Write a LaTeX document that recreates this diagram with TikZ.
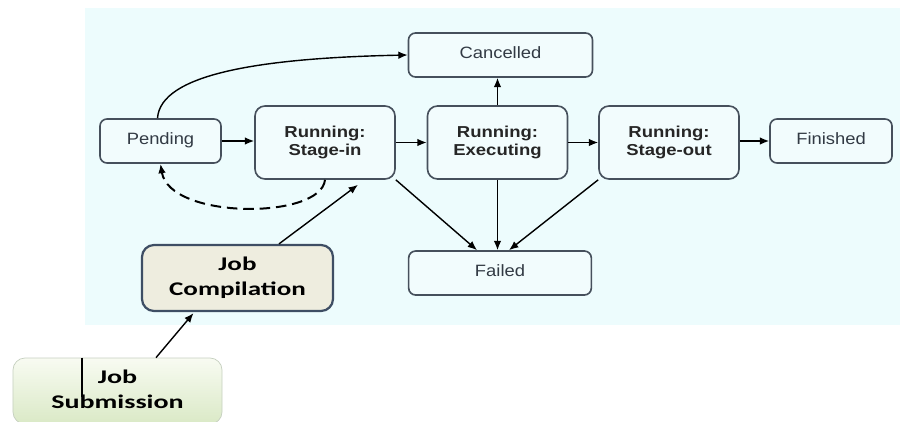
\documentclass[tikz,border=0pt]{standalone}
\usepackage{fontspec}
\setmainfont{Liberation Sans}
\newfontfamily\jobfont{Carlito}
\usetikzlibrary{arrows.meta,calc}

\definecolor{bgcyan}{RGB}{237,252,253}
\definecolor{statefill}{RGB}{242,252,253}
\definecolor{stateedge}{RGB}{70,80,92}
\definecolor{statetext}{RGB}{50,58,68}
\definecolor{compfill}{RGB}{238,237,223}
\definecolor{compedge}{RGB}{62,78,100}
\definecolor{subtop}{RGB}{248,251,242}
\definecolor{subbottom}{RGB}{218,233,198}
\definecolor{subedge}{RGB}{198,208,192}

% horizontally widened, centred text block
\newcommand{\widetext}[2]{\scalebox{#1}[1]{\begin{tabular}{@{}c@{}}#2\end{tabular}}}

\begin{document}
\begin{tikzpicture}[x=0.03cm,y=-0.03cm,
  statebox/.style={draw=stateedge, fill=statefill, line width=1.4pt,
    rounded corners=0.21cm, inner sep=0pt, minimum height=1.32cm,
    text=statetext, font=\fontsize{14}{16}\selectfont},
  runbox/.style={statebox, rounded corners=0.3cm, minimum width=4.2cm,
    minimum height=2.19cm, text=black!85,
    font=\bfseries\fontsize{13.5}{15.5}\selectfont},
  jobbox/.style={inner sep=0pt, rounded corners=0.36cm, minimum width=5.73cm,
    minimum height=1.98cm, text=black,
    font=\jobfont\bfseries\fontsize{16.5}{21}\selectfont},
  arr/.style={-{Latex[length=8pt,width=6.5pt]}, line width=1.2pt, black},
  backarr/.style={arr, line width=1.7pt, dash pattern=on 9pt off 5pt}]

\useasboundingbox (0,0) rectangle (900,421);
\clip (0,0) rectangle (900,421);

% canvas behind the state chart
\fill[bgcyan] (85,8) rectangle (900,325);

% states
\node[statebox, minimum width=3.63cm] (pend) at (160.5,141) {\widetext{1.12}{Pending}};
\node[runbox] (sin) at (325,142.5) {\widetext{1.17}{Running:\\Stage-in}};
\node[runbox] (exe) at (497.5,142.5) {\widetext{1.17}{Running:\\Executing}};
\node[runbox] (sout) at (669,142.5) {\widetext{1.17}{Running:\\Stage-out}};
\node[statebox, minimum width=3.66cm] (fin) at (831,141) {\widetext{1.12}{Finished}};
\node[statebox, minimum width=5.52cm] (canc) at (500.5,55) {\widetext{1.12}{Cancelled}};
\node[statebox, minimum width=5.48cm] (fail) at (500,273) {\widetext{1.12}{Failed}};

% job preparation
\node[jobbox, draw=compedge, fill=compfill, line width=1.9pt]
  (comp) at (237.5,278) {\widetext{1.4}{Job\\Compilation}};
\node[jobbox, draw=subedge, line width=0.6pt, top color=subtop,
  bottom color=subbottom, minimum width=6.27cm]
  (sub) at (117.5,391) {\widetext{1.45}{Job\\Submission}};
\coordinate (caret) at ($(sub.north west)+(69,0)$);
\draw[line width=1.8pt, black] (caret) -- ++(0,39);

% transitions
\draw[arr] (pend.east) -- (pend.east -| sin.west);
\draw[arr] (sin.east) -- (exe.west);
\draw[arr] (exe.east) -- (sout.west);
\draw[arr] (fin.west -| sout.east) -- (fin.west);
\draw[arr] (exe.north) -- (exe.north |- canc.south);
\draw[arr] ($(pend.north)+(-3,0)$) .. controls +(3,-44) and +(-148,3) .. (canc.west);
\draw[backarr] (sin.south) .. controls +(-4,40) and +(9,56) .. (pend.south);
\draw[arr] (sin.south east) -- ($(fail.north)+(-23,0)$);
\draw[arr] (exe.south) -- (exe.south |- fail.north);
\draw[arr] (sout.south west) -- ($(fail.north)+(9,0)$);
\draw[arr] ($(comp.north)+(41.5,0)$) -- ($(sin.south)+(33,5)$);
\draw[arr] ($(sub.north)+(38.5,0)$) -- ($(comp.south)+(-44,1)$);
\end{tikzpicture}
\end{document}
